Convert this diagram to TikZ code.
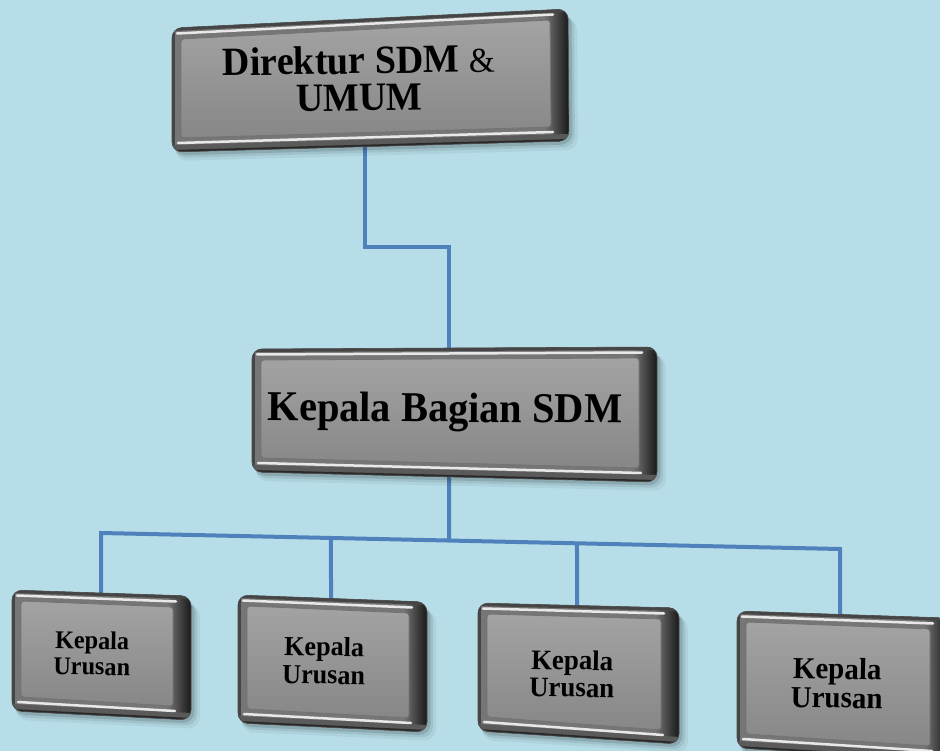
\documentclass[tikz,border=0pt]{standalone}
\usepackage{fontspec}
\setmainfont{Liberation Serif}
\newfontfamily\platefont[FakeStretch=0.95]{Liberation Serif}
\usetikzlibrary{calc}

\definecolor{bgblue}{HTML}{B7DEE8}
\definecolor{linkblue}{HTML}{4F81BD}
\definecolor{rimmid}{HTML}{767676}
\definecolor{rimdark}{HTML}{141414}
\definecolor{rimedge}{HTML}{454545}
\definecolor{rimlow}{HTML}{5A5A5A}
\definecolor{facetop}{HTML}{A3A3A3}
\definecolor{facebot}{HTML}{878787}
\definecolor{shine}{HTML}{E8E8E8}

\tikzset{
  link/.style={draw=linkblue, line width=4pt, line join=miter},
  boxlabel/.style={align=center, text=black, inner sep=0pt},
}

% bevelled grey plate given by its four corners: id, top-left, top-right, bottom-right, bottom-left
\newcommand\bevelbox[5]{%
  \coordinate (#1-tl) at #2;
  \coordinate (#1-tr) at #3;
  \coordinate (#1-br) at #4;
  \coordinate (#1-bl) at #5;
  % soft drop shadow
  \foreach \sd/\so in {9/0.05,6/0.08,3.5/0.12}{%
    \fill[black,opacity=\so,rounded corners=12pt]
      ($(#1-tl)+(\sd*0.4,\sd)$) -- ($(#1-tr)+(\sd,\sd)$) --
      ($(#1-br)+(\sd,\sd)$) -- ($(#1-bl)+(\sd*0.4,\sd)$) -- cycle;}%
  \begin{scope}
    \clip[rounded corners=10pt] (#1-tl) -- (#1-tr) -- (#1-br) -- (#1-bl) -- cycle;
    \fill[rimmid] ($(#1-tl)+(-30,-30)$) rectangle ($(#1-br)+(30,30)$);
    % dark right-hand bevel
    \shade[left color=rimmid, right color=rimdark]
      ($(#1-tr)+(-24,-30)$) rectangle ($(#1-br)+(1,30)$);
    % left rim
    \draw[rimedge, line width=5pt] ($(#1-tl)!-0.1!(#1-bl)$) -- ($(#1-bl)!-0.1!(#1-tl)$);
    % top rim with its highlight
    \draw[rimedge, line width=6pt] ($(#1-tl)!-0.1!(#1-tr)$) -- ($(#1-tr)!-0.1!(#1-tl)$);
    \draw[shine, line width=2.5pt, line cap=round]
      ($(#1-tl)+(5,5.5)$) -- ($(#1-tr)+(-15,5.5)$);
    % bottom rim with its highlight
    \draw[rimlow, line width=14pt] ($(#1-bl)!-0.1!(#1-br)$) -- ($(#1-br)!-0.1!(#1-bl)$);
    \draw[rimdark!70!rimlow, line width=4pt] ($(#1-bl)!-0.1!(#1-br)$) -- ($(#1-br)!-0.1!(#1-bl)$);
    \draw[shine, line width=2.5pt, line cap=round]
      ($(#1-bl)+(6,-9)$) -- ($(#1-br)+(-16,-9)$);
  \end{scope}
  % face
  \shade[top color=facetop, bottom color=facebot, rounded corners=3pt]
    ($(#1-tl)+(9,11)$) -- ($(#1-tr)+(-18,11)$) --
    ($(#1-br)+(-18,-14)$) -- ($(#1-bl)+(9,-14)$) -- cycle;
  \draw[black!55, line width=0.8pt, rounded corners=3pt]
    ($(#1-tl)+(9,11)$) -- ($(#1-tr)+(-18,11)$) --
    ($(#1-br)+(-18,-14)$) -- ($(#1-bl)+(9,-14)$) -- cycle;
  \draw[black!70, line width=0.6pt, rounded corners=10pt]
    (#1-tl) -- (#1-tr) -- (#1-br) -- (#1-bl) -- cycle;
}

\begin{document}
\begin{tikzpicture}[x=1pt,y=-1pt]
\useasboundingbox (0,0) rectangle (940,751);
\clip (0,0) rectangle (940,751);
\fill[bgblue] (0,0) rectangle (940,751);

% connector end points
\coordinate (dir-s)   at (365,146);
\coordinate (jog)     at (0,247);
\coordinate (kabag-n) at (449,352);
\coordinate (kabag-s) at (449,476);
\coordinate (busL)    at (101,533);
\coordinate (busR)    at (840,549);
\coordinate (j2) at ($(busL)!{(331-101)/739}!(busR)$);
\coordinate (j3) at ($(busL)!{(449-101)/739}!(busR)$);
\coordinate (j4) at ($(busL)!{(577-101)/739}!(busR)$);
\coordinate (ku1-n) at (101,597);
\coordinate (ku2-n) at (331,603);
\coordinate (ku3-n) at (577,610);
\coordinate (ku4-n) at (840,620);

% connectors
\draw[link] (dir-s) -- (dir-s |- jog) -- (kabag-n |- jog) -- (kabag-n);
\draw[link] (kabag-s) -- (j3);
\draw[link] (ku1-n) -- (busL) -- (busR) -- (ku4-n);
\draw[link] (j2) -- (ku2-n);
\draw[link] (j4) -- (ku3-n);

% plates
\bevelbox{dirbox}{(172,28)}{(568,9)}{(569,141)}{(172,152)}
\bevelbox{kabagbox}{(252,349)}{(657,347)}{(657,482)}{(252,472)}
\bevelbox{ku1box}{(12,590)}{(191,596)}{(191,720)}{(12,711)}
\bevelbox{ku2box}{(238,595)}{(427,602)}{(427,732)}{(238,723)}
\bevelbox{ku3box}{(478,603)}{(679,608)}{(679,744)}{(478,731)}
\bevelbox{ku4box}{(737,611)}{(948,618)}{(948,760)}{(737,748)}

% labels
\node[boxlabel, font=\platefont\fontsize{40}{37}\selectfont\bfseries, rotate=0.8] (dir) at (359,78.5)
  {Direktur SDM {\mdseries\fontsize{35}{37}\selectfont\&}\\UMUM};
\node[boxlabel, font=\platefont\fontsize{42.5}{40}\selectfont\bfseries, anchor=base, rotate=-0.4] (kabag) at (445,422)
  {Kepala Bagian SDM};
\node[boxlabel, font=\platefont\fontsize{25.5}{26}\selectfont\bfseries, rotate=-1] (ku1) at (92,653.2) {Kepala\\Urusan};
\node[boxlabel, font=\platefont\fontsize{27.5}{28}\selectfont\bfseries, rotate=-1] (ku2) at (324,660.5) {Kepala\\Urusan};
\node[boxlabel, font=\platefont\fontsize{28.3}{27}\selectfont\bfseries, rotate=-1] (ku3) at (572,673.7) {Kepala\\Urusan};
\node[boxlabel, font=\platefont\fontsize{30.5}{29}\selectfont\bfseries, rotate=-1] (ku4) at (837,683) {Kepala\\Urusan};
\end{tikzpicture}
\end{document}
